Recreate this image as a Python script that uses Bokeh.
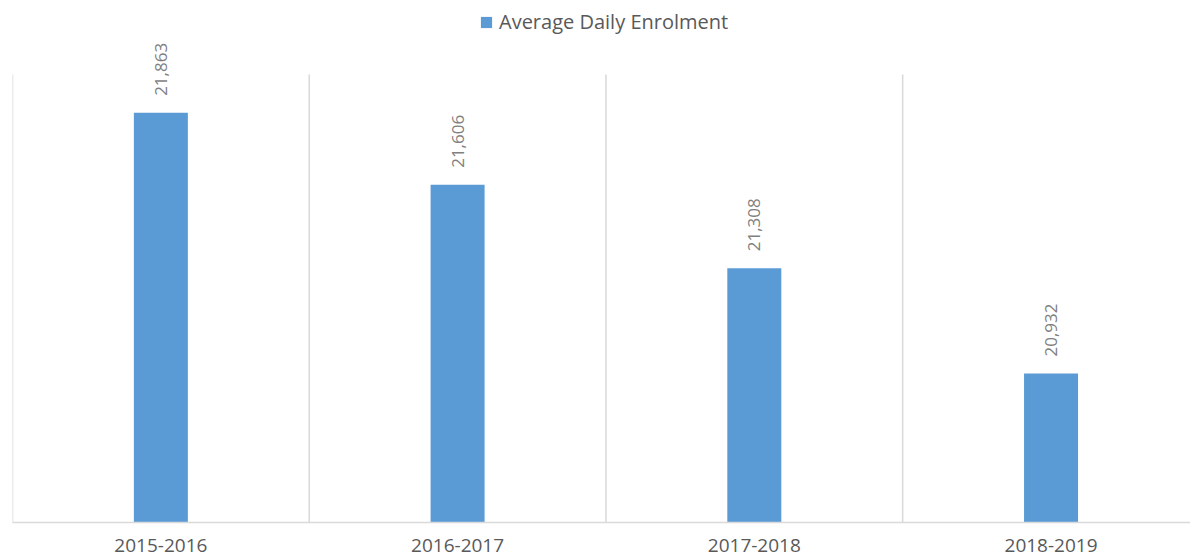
from bokeh.plotting import figure
from bokeh.models import ColumnDataSource, Range1d, FixedTicker, Legend, LegendItem
from bokeh.core.properties import value
from bokeh.embed import file_html
from bokeh.resources import INLINE

categories = ["2015-2016", "2016-2017", "2017-2018", "2018-2019"]
enrolment = [21863, 21606, 21308, 20932]
series_name = "Average Daily Enrolment"
y_min, y_max = 20400, 22000

x = [i + 0.5 for i in range(len(categories))]
bounds = list(range(len(categories) + 1))
labels = [f"{v:,}" for v in enrolment]
src = ColumnDataSource(dict(x=x, top=enrolment, label=labels))

FONT = "Open Sans"
frame_h = 522
plot_h = 448
y_top = y_min + (y_max - y_min) * frame_h / plot_h

p = figure(width=1190, height=558, output_backend="svg", toolbar_location=None,
           x_range=Range1d(0, 3.97), y_range=Range1d(y_min, y_top),
           min_border_left=12, min_border_right=0, min_border_top=0, min_border_bottom=36)
p.outline_line_color = None
p.background_fill_color = "white"
p.xgrid.visible = False
p.ygrid.visible = False
p.yaxis.visible = False

p.segment(x0=bounds, x1=bounds, y0=[y_min] * len(bounds), y1=[y_max] * len(bounds),
          line_color="#d9d9d9", line_width=1.5)

bars = p.vbar(x="x", top="top", bottom=y_min, width=0.182, source=src,
              fill_color="#5b9bd5", line_color=None)

p.text(x="x", y="top", text="label", source=src, angle=1.5708,
       text_align="left", text_baseline="middle", y_offset=-17,
       text_font=value(FONT), text_font_size="17px", text_color="#7f7f7f")

p.xaxis.ticker = FixedTicker(ticks=x)
p.xaxis.major_label_overrides = {xi: c for xi, c in zip(x, categories)}
p.xaxis.axis_line_color = "#d9d9d9"
p.xaxis.axis_line_width = 1.5
p.xaxis.major_tick_line_color = None
p.xaxis.minor_tick_line_color = None
p.xaxis.major_label_text_font = FONT
p.xaxis.major_label_text_font_size = "19px"
p.xaxis.major_label_text_color = "#595959"
p.xaxis.major_label_standoff = 10

legend = Legend(items=[LegendItem(label=series_name, renderers=[bars])],
                location=(467, 487), orientation="horizontal",
                label_text_font=FONT, label_text_font_size="20px",
                label_text_color="#595959", glyph_width=14, glyph_height=14,
                border_line_color=None, background_fill_alpha=0,
                padding=0, margin=0, label_standoff=6)
p.add_layout(legend)

open("out.html", "w").write(file_html(p, INLINE))
